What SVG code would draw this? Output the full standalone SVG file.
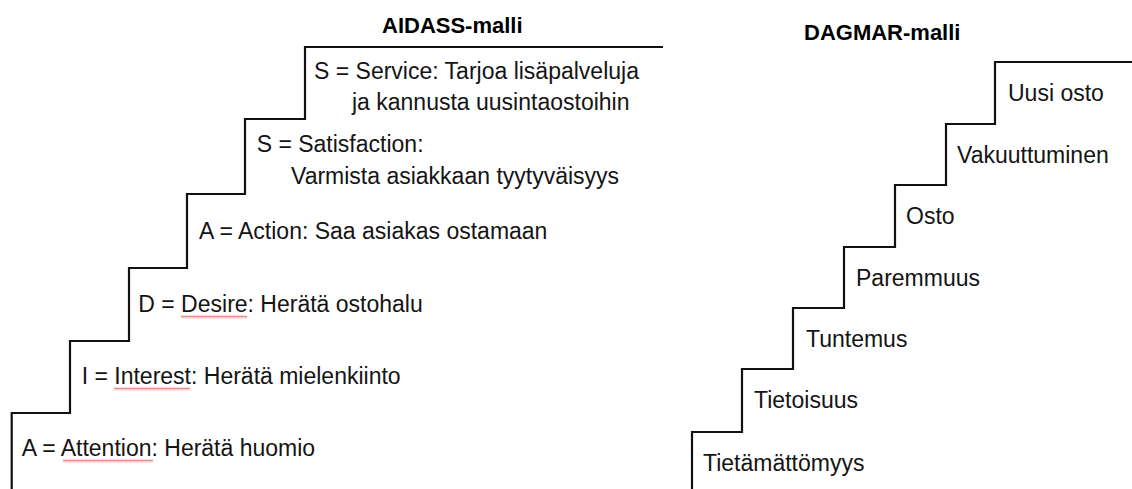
<svg xmlns="http://www.w3.org/2000/svg" width="1132" height="489" viewBox="0 0 1132 489">
<style>
.t{font-family:"Liberation Sans",Arial,sans-serif;font-size:23px;fill:#141414}
.h{font-family:"Liberation Sans",Arial,sans-serif;font-size:22px;font-weight:bold;fill:#000}
.stair{fill:none;stroke:#111;stroke-width:2.2;stroke-linejoin:miter}
.sq{fill:url(#wave)}
</style>
<defs>
<pattern id="wave" x="0" y="0" width="4" height="3" patternUnits="userSpaceOnUse">
<path d="M0,2.5 L1,0.5 L2,2.5 L3,0.5 L4,2.5" fill="none" stroke="#d9534f" stroke-width="0.7"/>
</pattern>
</defs>
<rect width="1132" height="489" fill="#fff"/>
<g id="connectors">
<path class="stair" d="M11.7,489 V413 H70 V341 H129 V268 H187 V194 H245 V119 H305 V47 H663"/>
<path class="stair" d="M692,489 V432 H742 V369 H793 V308 H844 V247 H895 V185 H946 V124 H995 V62 H1132"/>
</g>
<g id="title-aidass"><text class="h" x="382" y="33">AIDASS-malli</text></g>
<g id="title-dagmar"><text class="h" x="804" y="40">DAGMAR-malli</text></g>
<g id="aidass-service"><text class="t" x="314" y="79">S = Service: Tarjoa lisäpalveluja</text><text class="t" x="352" y="110">ja kannusta uusintaostoihin</text></g>
<g id="aidass-satisfaction"><text class="t" x="256.7" y="152">S = Satisfaction:</text><text class="t" x="291" y="184">Varmista asiakkaan tyytyväisyys</text></g>
<g id="aidass-action"><text class="t" x="199" y="239">A = Action: Saa asiakas ostamaan</text></g>
<g id="aidass-desire"><text class="t" x="138.3" y="312">D = Desire: Herätä ostohalu</text><rect class="sq" x="181" y="315.5" width="66" height="3"/></g>
<g id="aidass-interest"><text class="t" x="81.7" y="384">I = Interest: Herätä mielenkiinto</text><rect class="sq" x="114" y="387.5" width="76" height="3"/></g>
<g id="aidass-attention"><text class="t" x="21.7" y="456">A = Attention: Herätä huomio</text><rect class="sq" x="63" y="459.5" width="90" height="3"/></g>
<g id="dagmar-uusi-osto"><text class="t" x="1008" y="101">Uusi osto</text></g>
<g id="dagmar-vakuuttuminen"><text class="t" x="957" y="163">Vakuuttuminen</text></g>
<g id="dagmar-osto"><text class="t" x="906" y="224">Osto</text></g>
<g id="dagmar-paremmuus"><text class="t" x="856" y="286">Paremmuus</text></g>
<g id="dagmar-tuntemus"><text class="t" x="806" y="347">Tuntemus</text></g>
<g id="dagmar-tietoisuus"><text class="t" x="754" y="408">Tietoisuus</text></g>
<g id="dagmar-tietamattomyys"><text class="t" x="703" y="471">Tietämättömyys</text></g>
</svg>
